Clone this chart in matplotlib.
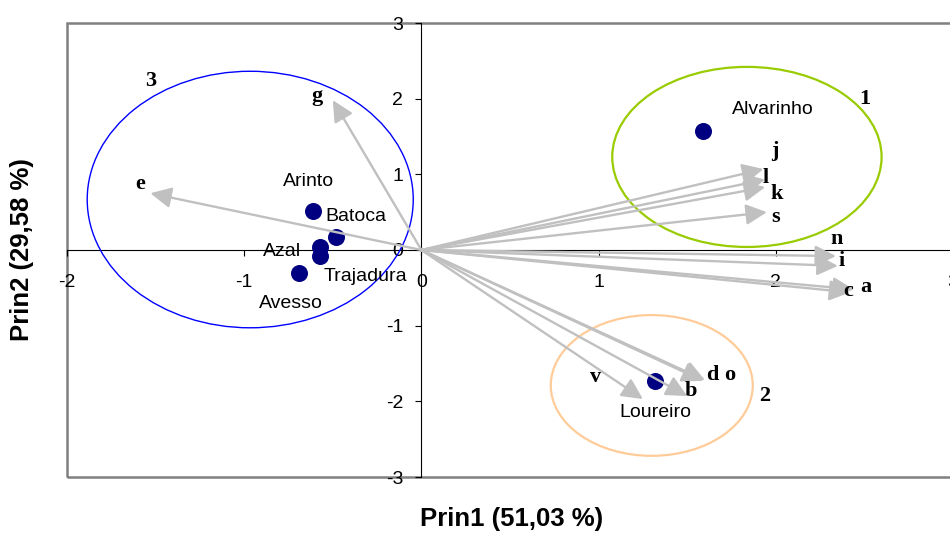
import matplotlib
matplotlib.use("Agg")
import matplotlib.pyplot as plt
from matplotlib.patches import Ellipse, Rectangle

# ---- data ----
varieties = ["Alvarinho", "Arinto", "Batoca", "Azal", "Trajadura", "Avesso", "Loureiro"]
var_prin1 = [1.59, -0.61, -0.48, -0.57, -0.57, -0.69, 1.32]
var_prin2 = [1.57, 0.52, 0.17, 0.04, -0.08, -0.30, -1.73]

variables = ["g", "e", "j", "l", "k", "s", "n", "i", "a", "c", "d", "o", "b", "v"]
vec_prin1 = [-0.50, -1.53, 1.93, 1.94, 1.94, 1.95, 2.34, 2.35, 2.44, 2.42, 1.59, 1.60, 1.50, 1.25]
vec_prin2 = [1.98, 0.75, 1.07, 0.93, 0.83, 0.50, -0.08, -0.21, -0.52, -0.56, -1.73, -1.72, -1.93, -1.97]

groups = ["3", "1", "2"]
group_cx = [-0.966, 1.837, 1.30]
group_cy = [0.667, 1.23, -1.79]
group_w = [1.84, 1.52, 1.14]
group_h = [3.39, 2.38, 1.86]
group_label_x = [-1.53, 2.50, 1.94]
group_label_y = [2.23, 1.99, -1.93]

x_ticks = [-2, -1, 0, 1, 2, 3]
y_ticks = [-3, -2, -1, 0, 1, 2, 3]

# ---- layout / style ----
var_offsets = [(50.4, 15.8), (-3.6, 20.9), (14.4, 15.1), (-27.4, -3.6),
               (32.4, -14.4), (-5.8, -22.3), (0, -23)]
vec_offsets = [(-11.5, 3), (-7, 7), (8.6, 13), (0.7, 1.4), (8.6, -5), (6.5, -3.6),
               (0.7, 12.2), (2.9, 3.6), (8.6, 1.4), (-1.4, 0.7), (6.5, 4.3),
               (18, 3.6), (2.9, 3.6), (-33.8, 15.8)]
group_colors = ["#0000ff", "#99cc00", "#ffcc99"]
group_lw = [1.0, 1.6, 1.6]

W, H = 950, 533
fig = plt.figure(figsize=(W / 100, H / 100), dpi=100)
ax = fig.add_axes([67 / W, (H - 477) / H, (953 - 67) / W, (477 - 23) / H])
ax.set_xlim(-2, 3)
ax.set_ylim(-3, 3)

sans = "Liberation Sans"
serif = "Liberation Serif"

for sp in ["top", "right"]:
    ax.spines[sp].set_visible(False)
ax.spines["left"].set_position(("data", 0))
ax.spines["bottom"].set_position(("data", 0))
for sp in ["left", "bottom"]:
    ax.spines[sp].set_color("black")
    ax.spines[sp].set_linewidth(0.8)
    ax.spines[sp].set_zorder(1)

ax.add_patch(Rectangle((0, 0), 1, 1, transform=ax.transAxes, fill=False,
                       edgecolor="#808080", linewidth=1.8, clip_on=False, zorder=0))

ax.set_xticks(x_ticks)
ax.set_yticks(y_ticks)
ax.set_xticklabels([str(t) for t in x_ticks])
ax.set_yticklabels([str(t) for t in y_ticks])
ax.tick_params(axis="x", direction="out", length=4, width=0.8, pad=13,
               labelsize=14)
ax.tick_params(axis="y", direction="out", length=4, width=0.8, pad=9,
               labelsize=14)
for lab in ax.get_xticklabels() + ax.get_yticklabels():
    lab.set_fontfamily(sans)

# ellipses
for name, cx, cy, w, h, col, lw, lx, ly in zip(groups, group_cx, group_cy, group_w,
                                               group_h, group_colors, group_lw,
                                               group_label_x, group_label_y):
    ax.add_patch(Ellipse((cx, cy), w, h, fill=False, edgecolor=col, linewidth=lw,
                         zorder=2))
    ax.text(lx, ly, name, fontsize=16, fontweight="bold", family=serif,
            ha="center", va="center", zorder=6)

# points
ax.scatter(var_prin1, var_prin2, s=150, color="#000080", zorder=3, linewidths=0)
for name, x, y, off in zip(varieties, var_prin1, var_prin2, var_offsets):
    ax.annotate(name, (x, y), xytext=off, textcoords="offset points",
                fontsize=14, family=sans, ha="center", va="center", zorder=6)

# vectors
for name, x, y, off in zip(variables, vec_prin1, vec_prin2, vec_offsets):
    ax.annotate("", xy=(x, y), xytext=(0, 0),
                arrowprops=dict(arrowstyle="-|>,head_length=0.85,head_width=0.42",
                                mutation_scale=15, color="#c0c0c0", lw=1.7,
                                shrinkA=0, shrinkB=0), zorder=4)
    ax.annotate(name, (x, y), xytext=off, textcoords="offset points",
                fontsize=16, fontweight="bold", family=serif,
                ha="center", va="center", zorder=6)

fig.text(512 / W, 1 - 519 / H, "Prin1 (51,03 %)", fontsize=18.5, fontweight="bold",
         family=sans, ha="center", va="center")
fig.text(22 / W, 1 - 250 / H, "Prin2 (29,58 %)", fontsize=18.5, fontweight="bold",
         family=sans, ha="center", va="center", rotation=90)

fig.savefig("out.png", dpi=100)
